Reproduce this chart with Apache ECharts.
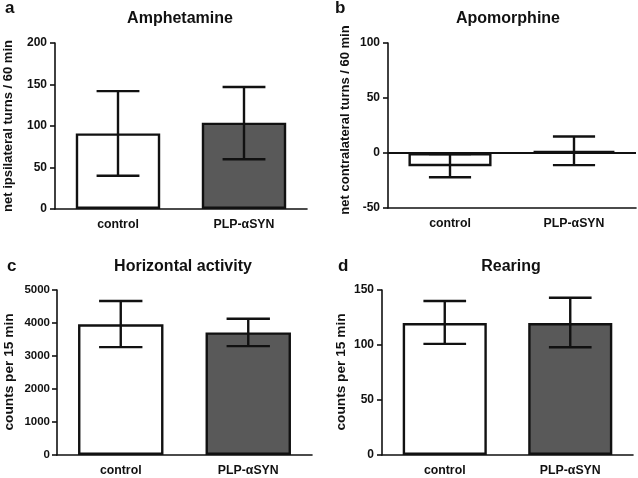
<!DOCTYPE html>
<html><head><meta charset="utf-8">
<script src="https://cdn.jsdelivr.net/npm/echarts@6/dist/echarts.min.js"></script>
<style>html,body{margin:0;padding:0;background:#fff}#c{width:638px;height:478px}</style>
</head><body><div id="c"></div>
<script>
const categories = ['control', 'PLP-αSYN'];
const panelTitles = ['Amphetamine', 'Apomorphine', 'Horizontal activity', 'Rearing'];
const panelLetters = ['a', 'b', 'c', 'd'];
const yNames = ['net ipsilateral turns / 60 min', 'net contralateral turns / 60 min', 'counts per 15 min', 'counts per 15 min'];
const yTicks = [[0, 50, 100, 150, 200], [-50, 0, 50, 100], [0, 1000, 2000, 3000, 4000, 5000], [0, 50, 100, 150]];

const ampMean = [91, 104];
const ampLow = [40, 60];
const ampHigh = [142, 147];

const apoMean = [-12, 2];
const apoLow = [-22, -11];
const apoHigh = [-1, 15];

const horMean = [3960, 3715];
const horLow = [3270, 3300];
const horHigh = [4665, 4130];

const rearMean = [120, 120];
const rearLow = [101, 98];
const rearHigh = [140, 143];

const means = [ampMean, apoMean, horMean, rearMean];
const lows = [ampLow, apoLow, horLow, rearLow];
const highs = [ampHigh, apoHigh, horHigh, rearHigh];

const FONT = '"Liberation Sans", Arial, Helvetica, sans-serif';
const grids = [
  {left: 55, top: 43, width: 252, height: 166},
  {left: 388, top: 43, width: 248, height: 165},
  {left: 57, top: 290, width: 255, height: 165},
  {left: 382, top: 290, width: 251, height: 165}
];
const tickFont = [12, 12, 11.5, 12];
const tickMargin = [8, 8, 7, 8];
const yNameSize = [13, 13, 13.7, 13.7];
const yNamePos = [[8.5, 126], [345, 120], [9, 372], [341, 372]];
const titlePos = [[180, 11], [508, 11], [183, 259], [511, 259]];
const letterPos = [[5, 0], [335, 0], [7, 258], [338, 258]];
const fills = ['#ffffff', '#595959'];

const xAxis = [], yAxis = [], series = [], graphic = [];
for (let i = 0; i < 4; i++) {
  const t = yTicks[i];
  xAxis.push({
    type: 'category', gridIndex: i, data: categories,
    axisLine: {onZero: false, lineStyle: {color: '#111', width: 1.6}},
    axisTick: {alignWithLabel: true, length: 5, lineStyle: {color: '#111', width: 1.6}},
    axisLabel: {color: '#111', fontFamily: FONT, fontWeight: 'bold', fontSize: 12.3, margin: 10},
    splitLine: {show: false}
  });
  yAxis.push({
    type: 'value', gridIndex: i, min: t[0], max: t[t.length - 1], interval: t[1] - t[0],
    axisLine: {show: true, onZero: false, lineStyle: {color: '#111', width: 1.6}},
    axisTick: {show: true, length: 5, lineStyle: {color: '#111', width: 1.6}},
    axisLabel: {color: '#111', fontFamily: FONT, fontWeight: 'bold', fontSize: tickFont[i], margin: tickMargin[i],
      formatter: function (v) { return String(v); }},
    splitLine: {show: false}
  });
  const bar = {
    type: 'bar', xAxisIndex: i, yAxisIndex: i, barWidth: '67%',
    data: means[i].map((v, k) => ({value: v, itemStyle: {color: fills[k], borderColor: '#111', borderWidth: 2.4}})),
    z: 2, silent: true
  };
  if (i === 1) {
    bar.markLine = {
      silent: true, symbol: 'none', label: {show: false},
      lineStyle: {color: '#111', width: 1.8, type: 'solid'},
      data: [{yAxis: 0}]
    };
  }
  series.push(bar);
  series.push({
    type: 'custom', xAxisIndex: i, yAxisIndex: i, z: 5, silent: true,
    data: categories.map((c, k) => [k, lows[i][k], highs[i][k]]),
    encode: {x: 0, y: [1, 2]},
    renderItem: function (params, api) {
      const x = api.value(0);
      const pLo = api.coord([x, api.value(1)]);
      const pHi = api.coord([x, api.value(2)]);
      const hw = api.size([1, 0])[0] * 0.17;
      const style = {stroke: '#111', lineWidth: 2.4, fill: null};
      return {type: 'group', children: [
        {type: 'line', shape: {x1: pLo[0], y1: pLo[1], x2: pHi[0], y2: pHi[1]}, style: style},
        {type: 'line', shape: {x1: pLo[0] - hw, y1: pLo[1], x2: pLo[0] + hw, y2: pLo[1]}, style: style},
        {type: 'line', shape: {x1: pHi[0] - hw, y1: pHi[1], x2: pHi[0] + hw, y2: pHi[1]}, style: style}
      ]};
    }
  });
  graphic.push({
    type: 'text', x: titlePos[i][0], y: titlePos[i][1],
    style: {text: panelTitles[i], fill: '#111', font: 'bold 16px ' + FONT, textAlign: 'center', textVerticalAlign: 'top'}
  });
  graphic.push({
    type: 'text', x: letterPos[i][0], y: letterPos[i][1],
    style: {text: panelLetters[i], fill: '#111', font: 'bold 17px ' + FONT, textAlign: 'left', textVerticalAlign: 'top'}
  });
  graphic.push({
    type: 'text', x: yNamePos[i][0], y: yNamePos[i][1], rotation: Math.PI / 2,
    style: {text: yNames[i], fill: '#111', font: 'bold ' + yNameSize[i] + 'px ' + FONT, textAlign: 'center', textVerticalAlign: 'middle'}
  });
}

const chart = echarts.init(document.getElementById('c'), null, {renderer: 'canvas'});
chart.setOption({
  animation: false,
  backgroundColor: '#fff',
  grid: grids.map(g => Object.assign({containLabel: false}, g)),
  xAxis: xAxis, yAxis: yAxis, series: series, graphic: graphic
});
</script>
</body></html>
